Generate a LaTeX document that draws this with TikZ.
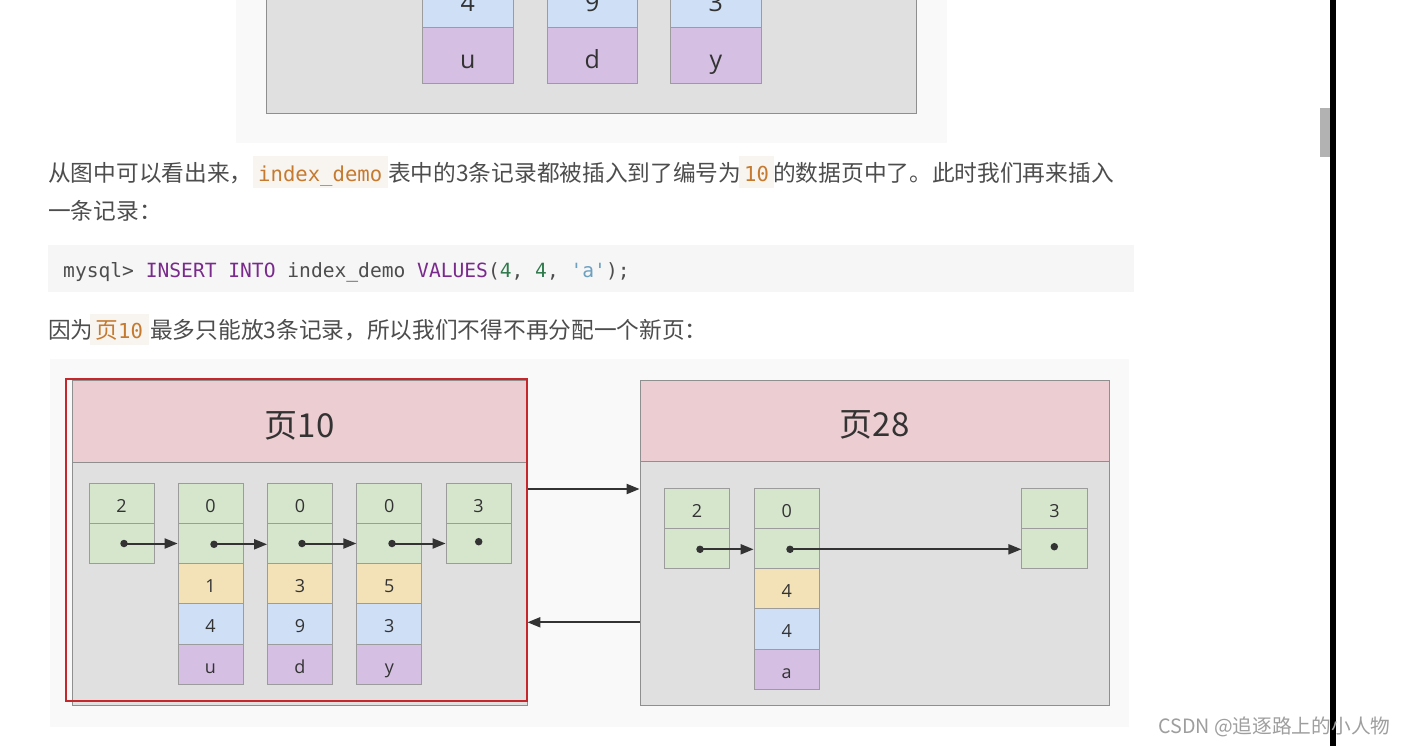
\documentclass[tikz,border=0pt]{standalone}
\usepackage{fontspec}
\setmainfont{Open Sans}
\newfontfamily\cjk{Noto Sans CJK SC}
\newfontfamily\monof{DejaVu Sans Mono}[Ligatures=TeXOff]
\usetikzlibrary{arrows.meta}
\definecolor{txt}{HTML}{4D4D4D}
\definecolor{codebg}{HTML}{F6F6F7}
\definecolor{inlinebg}{HTML}{F8F5F1}
\definecolor{codeorange}{HTML}{C57A30}
\definecolor{kw}{HTML}{7A2A8C}
\definecolor{num}{HTML}{2F7A4C}
\definecolor{str}{HTML}{6D9FBF}
\definecolor{figbg}{HTML}{F9F9F9}
\definecolor{pagegray}{HTML}{E0E0E0}
\definecolor{pinkh}{HTML}{ECCDD1}
\definecolor{cgreen}{HTML}{D6E6CD}
\definecolor{cyellow}{HTML}{F3E2B8}
\definecolor{cblue}{HTML}{CEDFF6}
\definecolor{cpurple}{HTML}{D5BFE3}
\definecolor{cborder}{HTML}{9C9C9C}
\definecolor{pborder}{HTML}{8F8F8F}
\definecolor{arrowc}{HTML}{333333}
\definecolor{hired}{HTML}{C4282C}
\definecolor{celltext}{HTML}{333333}
\tikzset{
  cell/.style={draw=cborder, line width=0.8pt, minimum width=65pt, minimum height=40.2pt,
    inner sep=0pt, text height=18pt, text depth=0pt, text=celltext,
    font=\fontsize{18}{18}\selectfont},
  bigcell/.style={draw=cborder, line width=0.8pt, minimum width=90.5pt, inner sep=0pt,
    text=celltext, font=\fontsize{25}{25}\selectfont},
  dot/.style={circle, fill=arrowc, inner sep=0pt, minimum size=7.5pt},
  arr/.style={draw=arrowc, line width=2pt, -{Triangle[length=13pt,width=10pt]}},
  pagebody/.style={draw=pborder, fill=pagegray, line width=0.8pt, inner sep=0pt},
  pagehead/.style={draw=pborder, fill=pinkh, line width=0.8pt, inner sep=0pt,
    text height=32pt, text depth=0pt, text=celltext, font=\cjk\fontsize{33}{33}\selectfont},
  para/.style={anchor=base west, inner sep=0pt, text=txt, font=\cjk\fontsize{22.7}{22.7}\selectfont},
  icode/.style={anchor=base west, inner sep=0pt, text=codeorange, font=\monof\fontsize{20.6}{20.6}\selectfont},
  ibg/.style={fill=inlinebg, draw=none, inner sep=0pt, anchor=north west},
}
\begin{document}
\begin{tikzpicture}[x=1pt,y=-1pt]
\useasboundingbox (0,0) rectangle (1404,746);
\fill[white] (0,0) rectangle (1404,746);
\clip (0,0) rectangle (1404,746);

% ---------- top fragment of the previous figure ----------
\fill[figbg] (235.5,0) rectangle (946.5,143.3);
\node[pagebody, minimum width=650pt, minimum height=123pt] (oldpage) at (591,51.8) {};
\node[bigcell, fill=cblue, minimum height=45pt] (ob1) at (467.8,5.2) {};
\node[bigcell, fill=cblue, minimum height=45pt] (ob2) at (592.2,5.2) {};
\node[bigcell, fill=cblue, minimum height=45pt] (ob3) at (715.8,5.2) {};
\node[anchor=base, inner sep=0pt, text=celltext, font=\fontsize{25}{25}\selectfont] (ot1) at (467.8,12) {4};
\node[anchor=base, inner sep=0pt, text=celltext, font=\fontsize{25}{25}\selectfont] (ot2) at (592.2,12) {9};
\node[anchor=base, inner sep=0pt, text=celltext, font=\fontsize{25}{25}\selectfont] (ot3) at (715.8,12) {3};
\node[bigcell, fill=cpurple, minimum height=55.6pt, text height=26pt, text depth=0pt] (op1) at (467.8,55.5) {u};
\node[bigcell, fill=cpurple, minimum height=55.6pt, text height=26pt, text depth=0pt] (op2) at (592.2,55.5) {d};
\node[bigcell, fill=cpurple, minimum height=55.6pt, text height=26pt, text depth=0pt] (op3) at (715.8,55.5) {y};

% ---------- paragraph 1 ----------
\node[para] (l1a) at (48,181.4) {从图中可以看出来，};
\node[ibg, minimum width=134.5pt, minimum height=32pt] (bg1) at (253,156) {};
\node[icode] (c1) at (258,181.4) {index\_demo};
\node[para] (l1b) at (388,181.4) {表中的3条记录都被插入到了编号为};
\node[ibg, minimum width=34.6pt, minimum height=32pt] (bg2) at (739,156) {};
\node[icode] (c2) at (744,181.4) {10};
\node[para] (l1c) at (773,181.4) {的数据页中了。此时我们再来插入};
\node[para] (l2) at (48,219.7) {一条记录：};

% ---------- code block ----------
\fill[codebg] (48,245) rectangle (1134,292.3);
\node[anchor=base west, inner sep=0pt, font=\monof\fontsize{19.6}{19.6}\selectfont] (code) at (63,277)
  {\color{txt}mysql> \color{kw}INSERT INTO \color{txt}index\_demo \color{kw}VALUES\color{txt}(\color{num}4\color{txt}, \color{num}4\color{txt}, \color{str}'a'\color{txt});};

% ---------- paragraph 2 ----------
\node[para] (l3a) at (48,338) {因为};
\node[ibg, minimum width=58.6pt, minimum height=31pt] (bg3) at (90,313.5) {};
\node[anchor=base west, inner sep=0pt, text=codeorange, font=\cjk\fontsize{22.7}{22.7}\selectfont] (c3a) at (95,338) {页};
\node[icode] (c3b) at (118,338) {10};
\node[para] (l3b) at (150,338) {最多只能放3条记录，所以我们不得不再分配一个新页：};

% ---------- figure ----------
\fill[figbg] (50,359) rectangle (1129,727);

% page 10
\node[pagebody, minimum width=455pt, minimum height=325pt] (p10) at (299.5,542.5) {};
\node[pagehead, minimum width=455pt, minimum height=82pt] (h10) at (299.5,421) {页10};

% page 28
\node[pagebody, minimum width=469pt, minimum height=325pt] (p28) at (874.5,542.5) {};
\node[pagehead, minimum width=469pt, minimum height=81.7pt] (h28) at (874.5,420.85) {页28};

% page 10 records
\node[cell, fill=cgreen] (a1t) at (121.5,503.4) {2};
\node[cell, fill=cgreen] (a1b) at (121.5,543.5) {};
\node[cell, fill=cgreen] (a2t) at (210.5,503.4) {0};
\node[cell, fill=cgreen] (a2b) at (210.5,543.5) {};
\node[cell, fill=cyellow] (a2y) at (210.5,583.7) {1};
\node[cell, fill=cblue] (a2c) at (210.5,623.8) {4};
\node[cell, fill=cpurple] (a2p) at (210.5,664) {u};
\node[cell, fill=cgreen] (a3t) at (300,503.4) {0};
\node[cell, fill=cgreen] (a3b) at (300,543.5) {};
\node[cell, fill=cyellow] (a3y) at (300,583.7) {3};
\node[cell, fill=cblue] (a3c) at (300,623.8) {9};
\node[cell, fill=cpurple] (a3p) at (300,664) {d};
\node[cell, fill=cgreen] (a4t) at (389.3,503.4) {0};
\node[cell, fill=cgreen] (a4b) at (389.3,543.5) {};
\node[cell, fill=cyellow] (a4y) at (389.3,583.7) {5};
\node[cell, fill=cblue] (a4c) at (389.3,623.8) {3};
\node[cell, fill=cpurple] (a4p) at (389.3,664) {y};
\node[cell, fill=cgreen] (a5t) at (478.5,503.4) {3};
\node[cell, fill=cgreen] (a5b) at (478.5,543.5) {};

\node[dot] (ad1) at (124,543.5) {};
\node[dot] (ad2) at (214,544.3) {};
\node[dot] (ad3) at (302,543.5) {};
\node[dot] (ad4) at (392,543.5) {};
\node[dot] (ad5) at (478.7,541.7) {};
\draw[arr] (ad1.center) -- (a2b.west |- ad1.center);
\draw[arr] (ad2.center) -- (a3b.west |- ad2.center);
\draw[arr] (ad3.center) -- (a4b.west |- ad3.center);
\draw[arr] (ad4.center) -- (a5b.west |- ad4.center);

% page 28 records
\node[cell, fill=cgreen, minimum width=65.4pt, minimum height=40.26pt] (b1t) at (697,508.1) {2};
\node[cell, fill=cgreen, minimum width=65.4pt, minimum height=40.26pt] (b1b) at (697,548.4) {};
\node[cell, fill=cgreen, minimum width=65.4pt, minimum height=40.26pt] (b2t) at (786.7,508.1) {0};
\node[cell, fill=cgreen, minimum width=65.4pt, minimum height=40.26pt] (b2b) at (786.7,548.4) {};
\node[cell, fill=cyellow, minimum width=65.4pt, minimum height=40.26pt] (b2y) at (786.7,588.7) {4};
\node[cell, fill=cblue, minimum width=65.4pt, minimum height=40.26pt] (b2c) at (786.7,628.9) {4};
\node[cell, fill=cpurple, minimum width=65.4pt, minimum height=40.26pt] (b2p) at (786.7,669.2) {a};
\node[cell, fill=cgreen, minimum width=65.4pt, minimum height=40.26pt] (b3t) at (1054.5,508.1) {3};
\node[cell, fill=cgreen, minimum width=65.4pt, minimum height=40.26pt] (b3b) at (1054.5,548.4) {};

\node[dot] (bd1) at (700,549.3) {};
\node[dot] (bd2) at (790,549.3) {};
\node[dot] (bd3) at (1054.3,546.7) {};
\draw[arr] (bd1.center) -- (b2b.west |- bd1.center);
\draw[arr] (bd2.center) -- (b3b.west |- bd2.center);

% links between pages
\coordinate (fwd) at (600,489);
\coordinate (bwd) at (600,622.3);
\draw[arr] (p10.east |- fwd) -- (p28.west |- fwd);
\draw[arr] (p28.west |- bwd) -- (p10.east |- bwd);

% red highlight
\node[draw=hired, line width=2pt, inner sep=0pt, minimum width=461pt, minimum height=322pt] (sel) at (296.5,540) {};

% ---------- scrollbar and watermark ----------
\fill[black] (1330,0) rectangle (1336,746);
\fill[black!30] (1320,108) rectangle (1330,157);
\node[anchor=west, inner sep=0pt, text=black!38, font=\cjk\fontsize{19.7}{19.7}\selectfont] (wm) at (1158,727) {CSDN @追逐路上的小人物};
\end{tikzpicture}
\end{document}
